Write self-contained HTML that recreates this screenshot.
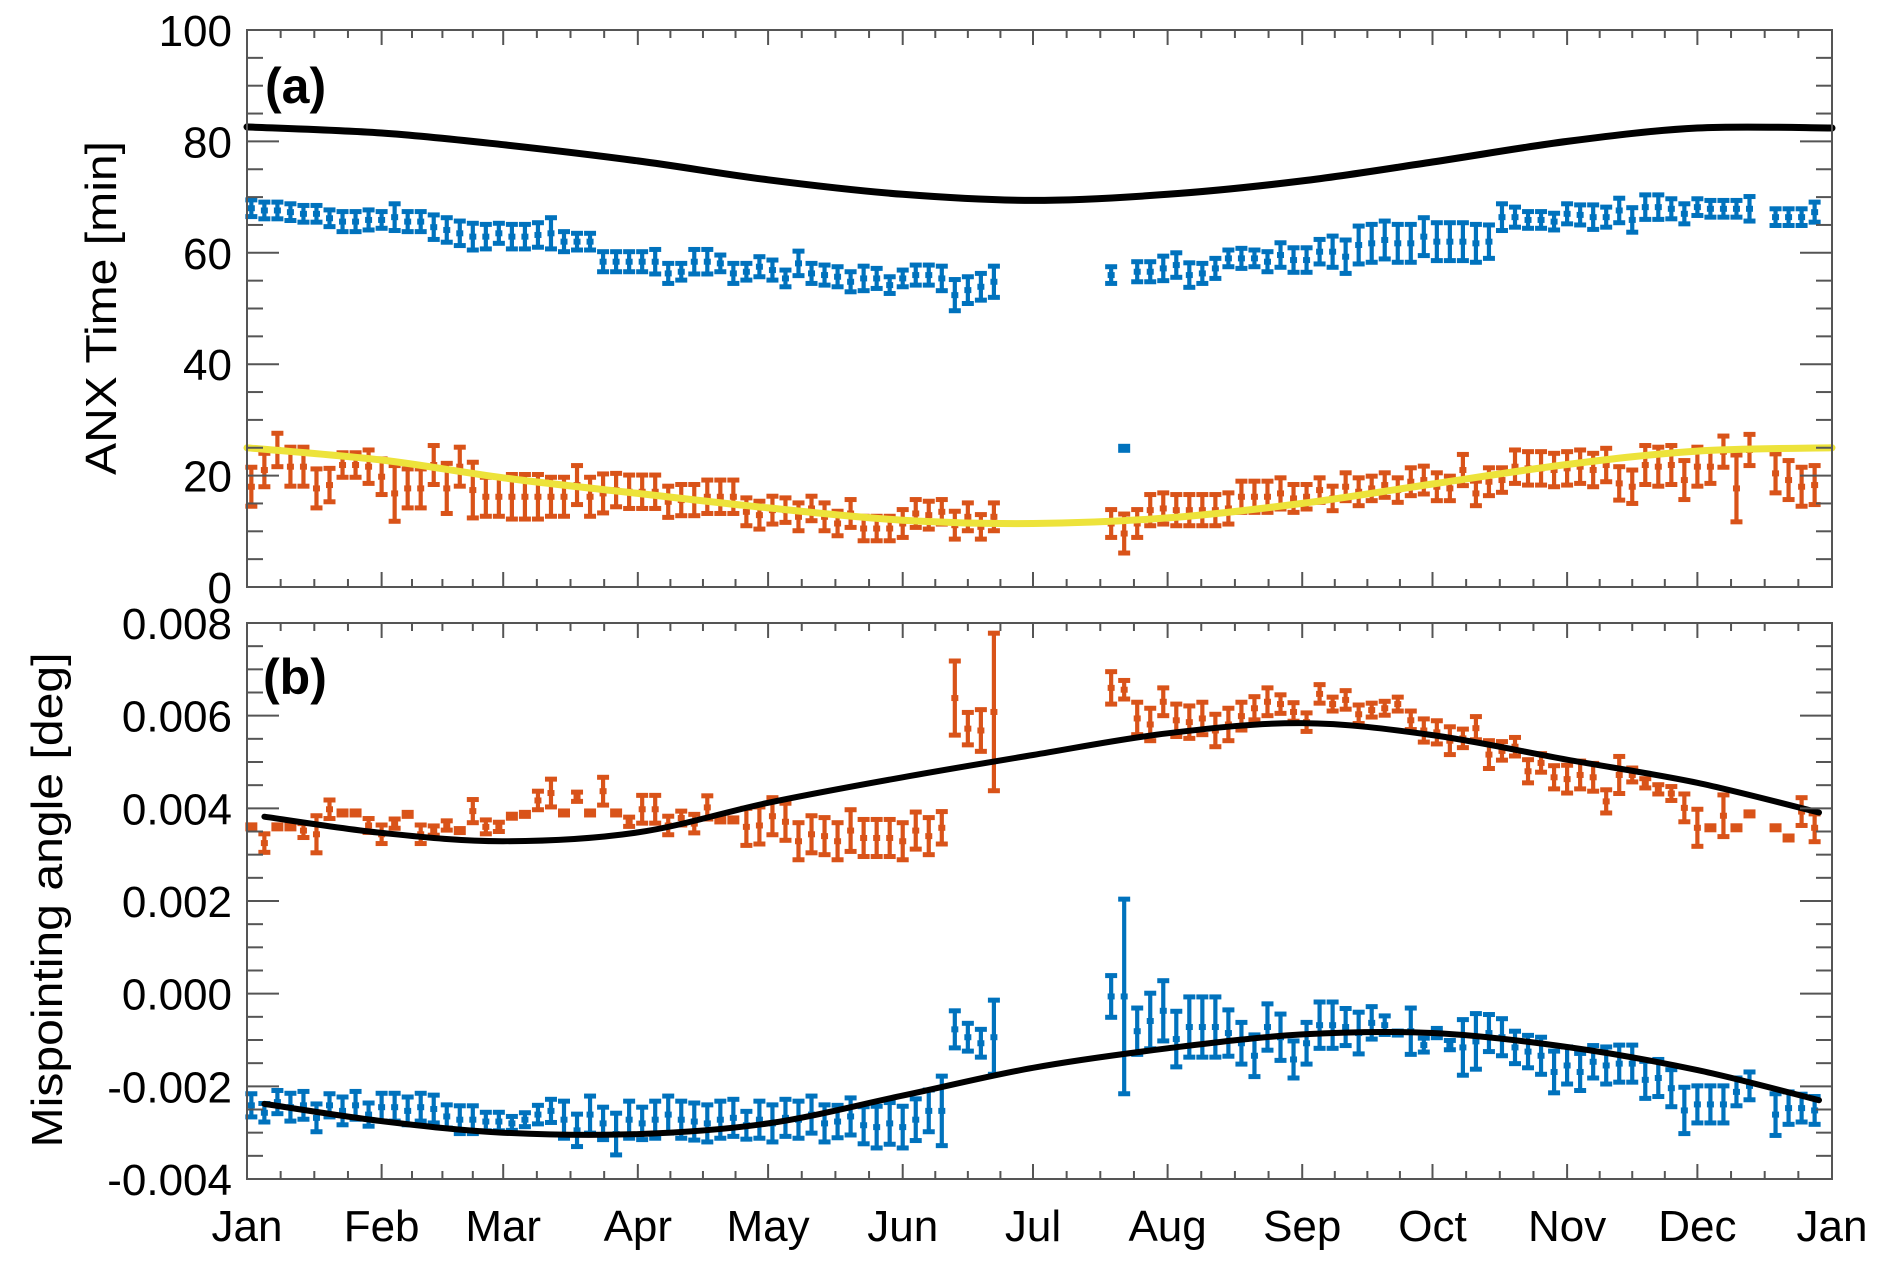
<!DOCTYPE html>
<html><head><meta charset="utf-8"><title>ANX time and mispointing angle</title>
<style>
html,body{margin:0;padding:0;background:#fff;}
svg{display:block;font-family:"Liberation Sans",Arial,sans-serif;}
</style></head>
<body>
<svg id="chart" width="1892" height="1274" viewBox="0 0 1892 1274" xmlns="http://www.w3.org/2000/svg">
<rect x="0" y="0" width="1892" height="1274" fill="#fff"/>
<g id="panelA"></g>
<g id="panelB"></g>
<g id="axes"></g>
</svg>
<script>
// ---------- data ----------
const monthLabels = ["Jan","Feb","Mar","Apr","May","Jun","Jul","Aug","Sep","Oct","Nov","Dec","Jan"];
const monthDays = [0,31,59,90,120,151,181,212,243,273,304,334,365];
const ticksA = [0,20,40,60,80,100];
const tickLabelsA = ["0","20","40","60","80","100"];
const ticksB = [-0.004,-0.002,0,0.002,0.004,0.006,0.008];
const tickLabelsB = ["-0.004","-0.002","0.000","0.002","0.004","0.006","0.008"];

// point k is at day 1 + 3k
const blueA = [68,67.6,67.6,67.3,67,67,66.2,65.6,65.6,65.9,65.9,66.4,65.6,65.6,64.6,64.1,63.5,62.9,62.9,63.5,62.9,62.9,63.2,63.5,62,62,62,58.4,58.4,58.4,58.4,58.4,56.3,56.6,58.4,58.4,58.1,56.3,56.6,57.5,
56.9,55.4,58.1,56.3,56.0,55.7,54.8,55.4,55.4,54.2,55.4,56.0,56.0,55.4,52.4,53.3,53.9,54.8,
null,null,null,null,null,null,null,null,
56.0,24.9,56.6,56.6,57.2,57.8,56.0,56.3,57.2,59.0,59.0,59.0,58.4,59.6,58.7,
58.7,60.2,60.2,59.3,61.4,61.7,62.3,61.7,61.7,62.9,62.0,62.0,62.0,61.7,62.0,66.4,66.4,65.9,65.9,65.6,67.0,66.8,66.4,66.4,67.6,65.9,68.2,68.2,67.9,67.0,68.2,67.9,67.9,67.9,67.9,
null,66.4,66.4,66.4,67.3];
const blueAErr = [1.5,1.5,1.5,1.5,1.5,1.5,1.5,1.8,1.8,1.8,1.5,2.4,1.8,1.8,2.2,2.2,2.2,2.4,2.2,1.8,2.2,2.2,2.2,2.8,1.8,1.5,1.5,1.8,1.8,1.8,1.8,2.2,1.8,1.5,2.2,2.2,1.5,1.8,1.5,1.8,
1.8,1.5,2.2,1.8,1.8,1.8,1.8,2.2,1.8,1.5,1.5,1.8,1.8,2.2,2.8,2.4,2.4,2.8,
0,0,0,0,0,0,0,0,
1.5,0.4,1.8,1.8,2.2,2.2,2.2,1.8,1.8,1.5,1.8,1.5,1.8,2.2,2.2,
2.2,2.2,2.8,3.0,3.4,3.4,3.4,3.4,3.4,3.4,3.4,3.4,3.4,3.4,3.0,2.4,1.8,1.5,1.5,1.5,1.8,1.8,2.2,1.8,2.2,2.2,2.2,2.2,1.8,1.8,1.5,1.5,1.5,1.5,2.2,
0,1.5,1.5,1.5,1.8];
const orangeA = [18.0,21.0,24.6,21.6,21.6,17.7,18.3,21.9,21.9,21.6,19.8,16.8,17.7,17.7,21.9,17.7,21.6,17.4,16.2,16.2,16.2,16.2,16.2,16.2,16.2,18.3,16.2,16.8,17.4,17.1,17.1,17.1,15.3,15.6,15.6,16.2,16.2,16.2,13.5,12.9,13.8,
13.8,12.6,14.1,12.6,11.4,13.2,10.5,10.5,10.5,11.4,13.2,12.9,13.5,11.1,12.6,10.8,12.6,
null,null,null,null,null,null,null,null,
11.4,9.6,11.4,13.8,14.1,13.8,13.8,13.8,13.8,14.1,16.2,16.2,16.2,16.8,15.9,
16.2,17.4,15.9,18.0,17.1,17.7,18.3,17.4,18.9,19.2,18.0,17.7,21.0,16.8,18.9,19.2,21.6,21.3,21.3,21.0,21.3,21.6,21.0,21.9,18.6,18.0,21.9,21.6,21.9,19.2,21.6,21.6,24.3,17.7,24.6,
null,20.4,19.2,18.0,18.3];
const orangeAErr = [3.5,3.0,3.0,3.5,3.5,3.5,3.0,2.2,2.2,3.0,3.2,5.0,3.5,3.5,3.5,4.5,3.5,5.0,3.5,3.5,4.0,4.0,4.0,3.5,3.5,3.5,3.5,3.5,3.0,3.0,3.0,3.0,2.8,2.8,2.8,3.0,3.0,3.0,2.5,2.5,2.5,
2.2,2.5,2.2,2.5,2.2,2.5,2.2,2.2,2.2,2.5,2.5,2.5,2.2,2.5,2.5,2.2,2.5,
0,0,0,0,0,0,0,0,
2.5,3.5,2.5,2.8,2.8,2.8,2.8,2.8,2.8,2.8,2.8,2.8,2.8,2.8,2.5,
2.2,2.2,2.2,2.5,2.5,2.2,2.2,2.2,2.5,2.5,2.5,2.2,2.8,2.2,2.5,2.2,3.0,3.0,3.0,3.0,3.0,3.0,3.0,3.0,3.0,3.0,3.5,3.5,3.5,3.5,3.5,3.0,2.8,6.0,2.8,
0,3.5,3.5,3.5,3.5];
const orangeB = [0.00360,0.00325,0.00360,0.00360,0.00352,0.00344,0.00398,0.00390,0.00390,0.00363,0.00344,0.00367,0.00387,0.00344,0.00352,0.00363,0.00352,0.00394,0.00360,0.00360,0.00383,0.00387,0.00417,0.00433,0.00390,0.00425,0.00390,0.00437,0.00390,0.00371,0.00398,0.00398,0.00363,0.00379,0.00367,0.00402,0.00375,0.00375,0.00360,0.00363,0.00383,0.00371,0.00329,0.00344,0.00340,0.00329,0.00352,0.00336,0.00336,0.00336,0.00329,0.00352,0.00340,
0.00358,0.00638,0.00572,0.00568,0.00608,
null,null,null,null,null,null,null,null,
0.00660,0.00656,0.00594,0.00581,0.00630,0.00590,0.00586,0.00594,0.00568,0.00581,0.00599,0.00616,0.00630,0.00625,0.00608,0.00586,0.00647,0.00625,0.00634,0.00603,0.00612,0.00616,0.00625,0.00590,0.00568,0.00564,0.00546,0.00551,0.00573,0.00516,0.00524,0.00533,0.00480,0.00498,0.00467,0.00463,0.00472,0.00467,0.00415,0.00472,0.00472,0.00454,0.00441,0.00432,0.00401,0.00358,0.00358,0.00384,0.00358,0.00388,
null,0.00358,0.00336,0.00393,0.00358];
const orangeBErr = [0.00005,0.00020,0.00005,0.00005,0.00015,0.00040,0.00020,0.00005,0.00005,0.00015,0.00020,0.00010,0.00005,0.00020,0.00010,0.00010,0.00005,0.00025,0.00015,0.00010,0.00005,0.00005,0.00020,0.00030,0.00005,0.00010,0.00005,0.00030,0.00005,0.00010,0.00030,0.00030,0.00020,0.00015,0.00020,0.00025,0.00005,0.00005,0.00040,0.00040,0.00040,0.00040,0.00040,0.00040,0.00040,0.00040,0.00045,0.00040,0.00040,0.00040,0.00040,0.00040,0.00040,
0.00035,0.00080,0.00035,0.00045,0.00170,
0,0,0,0,0,0,0,0,
0.00035,0.00020,0.00035,0.00035,0.00030,0.00035,0.00035,0.00035,0.00035,0.00035,0.00030,0.00025,0.00030,0.00020,0.00020,0.00020,0.00020,0.00015,0.00020,0.00020,0.00015,0.00015,0.00015,0.00020,0.00025,0.00025,0.00030,0.00020,0.00025,0.00030,0.00020,0.00020,0.00025,0.00020,0.00025,0.00030,0.00030,0.00030,0.00025,0.00040,0.00015,0.00010,0.00010,0.00015,0.00030,0.00040,0.00005,0.00045,0.00005,0.00005,
0,0.00005,0.00005,0.00030,0.00030];
const blueB = [-0.00241,-0.00257,-0.00234,-0.00245,-0.00241,-0.00268,-0.00241,-0.00253,-0.00241,-0.00261,-0.00245,-0.00245,-0.00253,-0.00245,-0.00249,-0.00265,-0.00272,-0.00272,-0.00276,-0.00276,-0.00280,-0.00272,-0.00261,-0.00253,-0.00272,-0.00295,-0.00261,-0.00280,-0.00303,-0.00272,-0.00280,-0.00272,-0.00261,-0.00272,-0.00276,-0.00280,-0.00272,-0.00268,-0.00284,-0.00272,-0.00280,-0.00268,-0.00272,-0.00261,-0.00280,-0.00276,-0.00265,-0.00284,-0.00288,-0.00280,-0.00288,-0.00272,-0.00253,-0.00253,
-0.00077,-0.00094,-0.00107,-0.00094,
null,null,null,null,null,null,null,null,
-0.00006,-0.00006,-0.00081,-0.00059,-0.00037,-0.00098,-0.00072,-0.00072,-0.00072,-0.00085,-0.00107,-0.00134,-0.00072,-0.00094,-0.00142,-0.00107,-0.00068,-0.00068,-0.00072,-0.00085,-0.00063,-0.00068,-0.00085,-0.00081,-0.00111,-0.00085,-0.00111,-0.00116,-0.00103,-0.00085,-0.00094,-0.00116,-0.00125,-0.00134,-0.00169,-0.00155,-0.00169,-0.00147,-0.00155,-0.00151,-0.00151,-0.00186,-0.00182,-0.00204,-0.00252,-0.00239,-0.00239,-0.00239,-0.00212,-0.00199,
null,-0.00261,-0.00247,-0.00247,-0.00252];
const blueBErr = [0.00025,0.00020,0.00025,0.00030,0.00030,0.00030,0.00025,0.00030,0.00030,0.00025,0.00030,0.00030,0.00030,0.00030,0.00030,0.00025,0.00030,0.00030,0.00020,0.00020,0.00015,0.00015,0.00020,0.00025,0.00040,0.00035,0.00040,0.00035,0.00045,0.00040,0.00035,0.00040,0.00040,0.00040,0.00040,0.00040,0.00040,0.00040,0.00030,0.00040,0.00040,0.00040,0.00040,0.00040,0.00040,0.00035,0.00040,0.00040,0.00045,0.00045,0.00045,0.00045,0.00045,0.00075,
0.00040,0.00030,0.00030,0.00080,
0,0,0,0,0,0,0,0,
0.00045,0.00210,0.00050,0.00060,0.00065,0.00060,0.00065,0.00065,0.00065,0.00050,0.00045,0.00045,0.00050,0.00050,0.00040,0.00045,0.00050,0.00050,0.00040,0.00045,0.00035,0.00020,0.00005,0.00050,0.00015,0.00010,0.00010,0.00060,0.00060,0.00040,0.00040,0.00035,0.00035,0.00040,0.00045,0.00040,0.00040,0.00035,0.00040,0.00040,0.00040,0.00040,0.00040,0.00040,0.00050,0.00040,0.00040,0.00040,0.00030,0.00030,
0,0.00045,0.00035,0.00030,0.00030];

// model curves (node days + values)
const fitDaysA = [0,31,59,90,120,151,181,212,243,273,304,334,365];
const blackFitA = [82.6,81.5,79.4,76.5,73.1,70.5,69.4,70.5,72.9,76.3,80.0,82.4,82.4];
const yellowFitA = [25.0,22.8,19.6,16.8,14.2,12.0,11.4,12.4,15.0,18.5,22.0,24.4,25.0];
const fitDaysB = [4,31,59,90,120,151,181,212,243,273,304,334,362];
const orangeFitB = [0.00382,0.00347,0.00329,0.00348,0.00412,0.00467,0.00515,0.00562,0.00584,0.00558,0.00505,0.00455,0.00391];
const blueFitB = [-0.00238,-0.00275,-0.00300,-0.00303,-0.00280,-0.00220,-0.00160,-0.00118,-0.00088,-0.00085,-0.00115,-0.00165,-0.00230];

// ---------- geometry ----------
const NS = "http://www.w3.org/2000/svg";
const X0 = 247, X1 = 1832;
const A_TOP = 30, A_BOT = 587, B_TOP = 623, B_BOT = 1179;
const A_MIN = 0, A_MAX = 100, B_MIN = -0.004, B_MAX = 0.008;
const BLUE = "#0072BD", ORANGE = "#D95319", YELLOW = "#EDE33B";
function xScale(day){ return X0 + day/365*(X1-X0); }
function yA(v){ return A_BOT - (v-A_MIN)/(A_MAX-A_MIN)*(A_BOT-A_TOP); }
function yB(v){ return B_BOT - (v-B_MIN)/(B_MAX-B_MIN)*(B_BOT-B_TOP); }
function dayOf(k){ return 1 + 3*k; }
function mk(tag, attrs, parent){
  const el = document.createElementNS(NS, tag);
  for (const k in attrs) el.setAttribute(k, attrs[k]);
  parent.appendChild(el);
  return el;
}

function smoothPath(days, vals, yf){
  const p = days.map((d,i)=>[xScale(d), yf(vals[i])]);
  let s = "M"+p[0][0].toFixed(1)+","+p[0][1].toFixed(1);
  for (let i=0;i<p.length-1;i++){
    const p0=p[Math.max(0,i-1)], p1=p[i], p2=p[i+1], p3=p[Math.min(p.length-1,i+2)];
    const c1=[p1[0]+(p2[0]-p0[0])/6, p1[1]+(p2[1]-p0[1])/6];
    const c2=[p2[0]-(p3[0]-p1[0])/6, p2[1]-(p3[1]-p1[1])/6];
    s += " C"+c1[0].toFixed(1)+","+c1[1].toFixed(1)+" "+c2[0].toFixed(1)+","+c2[1].toFixed(1)+" "+p2[0].toFixed(1)+","+p2[1].toFixed(1);
  }
  return s;
}

function drawSeries(parent, vals, errs, yf, color, name){
  const g = mk("g", {}, parent);
  
  
  vals.forEach((v,k)=>{
    if (v === null) return;
    const x = xScale(dayOf(k));
    const e = errs[k];
    const yTop = yf(v+e), yBot = yf(v-e), yc = yf(v);
    const pt = mk("g", {}, g);
    
    
    if (yBot - yTop > 6){
      mk("line", {x1:x, x2:x, y1:yTop, y2:yBot, stroke:color, "stroke-width":4.2}, pt);
      mk("line", {x1:x-6, x2:x+6, y1:yTop, y2:yTop, stroke:color, "stroke-width":5}, pt);
      mk("line", {x1:x-6, x2:x+6, y1:yBot, y2:yBot, stroke:color, "stroke-width":5}, pt);
      mk("rect", {x:x-3.5, y:yc-3, width:7, height:6, fill:color}, pt);
    } else {
      mk("rect", {x:x-6, y:yc-4.5, width:12, height:9, fill:color}, pt);
    }
  });
}

function drawFit(parent, days, vals, yf, color, w, name){
  const p = mk("path", {d:smoothPath(days, vals, yf), fill:"none", stroke:color, "stroke-width":w, "stroke-linecap":"round"}, parent);
  
  
}

const pa = document.getElementById("panelA");
const pb = document.getElementById("panelB");
const ax = document.getElementById("axes");

// panel a
drawFit(pa, fitDaysA, blackFitA, yA, "#000", 7, "anx-model-curve-black");
drawSeries(pa, blueA, blueAErr, yA, BLUE, "anx-blue-series");
drawSeries(pa, orangeA, orangeAErr, yA, ORANGE, "anx-orange-series");
drawFit(pa, fitDaysA, yellowFitA, yA, YELLOW, 7, "anx-model-curve-yellow");

// panel b
drawSeries(pb, orangeB, orangeBErr, yB, ORANGE, "mispointing-orange-series");
drawSeries(pb, blueB, blueBErr, yB, BLUE, "mispointing-blue-series");
drawFit(pb, fitDaysB, orangeFitB, yB, "#000", 6, "mispointing-fit-upper");
drawFit(pb, fitDaysB, blueFitB, yB, "#000", 6, "mispointing-fit-lower");

// axes frames and ticks
function frame(top, bot, name){
  const r = mk("rect", {x:X0, y:top, width:X1-X0, height:bot-top, fill:"none", stroke:"#555", "stroke-width":2}, ax);
  
  
  for (let m=0;m<12;m++){
    for (let q=0;q<4;q++){
      const d = monthDays[m] + (monthDays[m+1]-monthDays[m])*q/4;
      const x = xScale(d);
      const L = q===0 ? 15 : 8;
      mk("line", {x1:x,x2:x,y1:bot,y2:bot-L,stroke:"#555","stroke-width":2}, ax);
      mk("line", {x1:x,x2:x,y1:top,y2:top+L,stroke:"#555","stroke-width":2}, ax);
    }
  }
}
frame(A_TOP, A_BOT, "panel-a-frame");
frame(B_TOP, B_BOT, "panel-b-frame");

function yTicks(ticks, labels, yf, minorStep, vmin, vmax, prefix){
  for (let v=vmin; v<=vmax+1e-12; v+=minorStep){
    const y = yf(v);
    const major = ticks.some(t=>Math.abs(t-v)<minorStep/10);
    const L = major ? 32 : 16;
    mk("line",{x1:X0,x2:X0+L,y1:y,y2:y,stroke:"#555","stroke-width":2},ax);
    mk("line",{x1:X1,x2:X1-L,y1:y,y2:y,stroke:"#555","stroke-width":2},ax);
  }
  ticks.forEach((t,i)=>{
    const tx = mk("text",{x:232,y:yf(t)+16,"text-anchor":"end","font-size":44,fill:"#000"},ax);
    tx.textContent = labels[i];
    
    
  });
}
yTicks(ticksA, tickLabelsA, yA, 5, 0, 100, "y-axis-a");
yTicks(ticksB, tickLabelsB, yB, 0.0005, -0.004, 0.008, "y-axis-b");

monthLabels.forEach((m,i)=>{
  const t = mk("text",{x:xScale(monthDays[i]),y:1241,"text-anchor":"middle","font-size":44,fill:"#000"},ax);
  t.textContent = m;
  
  
});

const ta = mk("text",{x:0,y:0,"text-anchor":"middle","font-size":44,fill:"#000",transform:"translate(116,308) rotate(-90)",textLength:334,lengthAdjust:"spacingAndGlyphs"},ax);
ta.textContent = "ANX Time [min]";


const tb = mk("text",{x:0,y:0,"text-anchor":"middle","font-size":44,fill:"#000",transform:"translate(62,900) rotate(-90)",textLength:495,lengthAdjust:"spacingAndGlyphs"},ax);
tb.textContent = "Mispointing angle [deg]";



const la = mk("text",{x:265,y:103,"font-size":50,"font-weight":"bold",fill:"#000"},ax);
la.textContent = "(a)";


const lb = mk("text",{x:263,y:694,"font-size":50,"font-weight":"bold",fill:"#000"},ax);
lb.textContent = "(b)";


</script>
</body></html>
